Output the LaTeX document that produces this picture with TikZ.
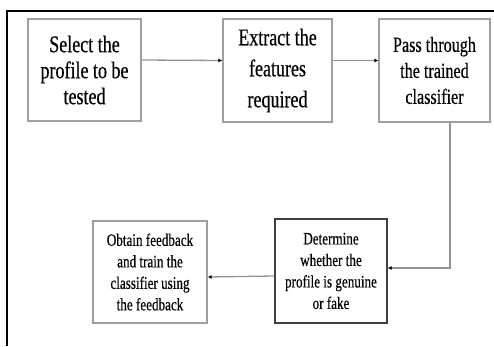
\documentclass[tikz,border=0pt]{standalone}
\usepackage{fontspec}
\setmainfont[FakeStretch=0.75,FakeBold=0.4]{Liberation Serif}
\usetikzlibrary{arrows.meta}
\tikzset{
  stage/.style={draw=gray!75, line width=1.3pt, align=center, inner sep=2pt},
  flow/.style={draw=gray!85, line width=1.3pt, -{Latex[length=4pt,width=4pt,black]}}
}
\begin{document}
\begin{tikzpicture}[x=1pt,y=1pt]
\useasboundingbox (0,0) rectangle (494,346);
\draw[line width=2pt] (7,0) -- (7,335) -- (494,335);
\node[stage, minimum width=113pt, minimum height=102pt,
  font=\fontsize{24}{26}\selectfont] (S) at (84.5,276) {Select the\\profile to be\\tested};
\node[stage, minimum width=109pt, minimum height=103pt,
  font=\fontsize{24}{31}\selectfont] (X) at (277.5,275.5) {Extract the\\features\\required};
\node[stage, minimum width=111pt, minimum height=103pt,
  font=\fontsize{21.5}{26}\selectfont] (P) at (434.5,275.5) {Pass through\\the trained\\classifier};
\node[stage, draw=black!75, minimum width=112pt, minimum height=104pt,
  font=\fontsize{17.5}{21.5}\selectfont] (D) at (331,75) {Determine\\whether the\\profile is genuine\\or fake};
\node[stage, minimum width=114pt, minimum height=102pt,
  font=\fontsize{17.5}{21.5}\selectfont] (F) at (150,74) {Obtain feedback\\and train the\\classifier using\\the feedback};
\coordinate (turn) at (450,78);
\draw[flow] ([yshift=10pt]S.east) -- ([yshift=10pt]X.west);
\draw[flow] ([yshift=10pt]X.east) -- ([yshift=10pt]P.west);
\draw[flow] (P.south -| turn) -- (turn) -- (D.east |- turn);
\draw[flow] ([yshift=-5pt]D.west) -- ([yshift=-5pt]F.east);
\end{tikzpicture}
\end{document}
